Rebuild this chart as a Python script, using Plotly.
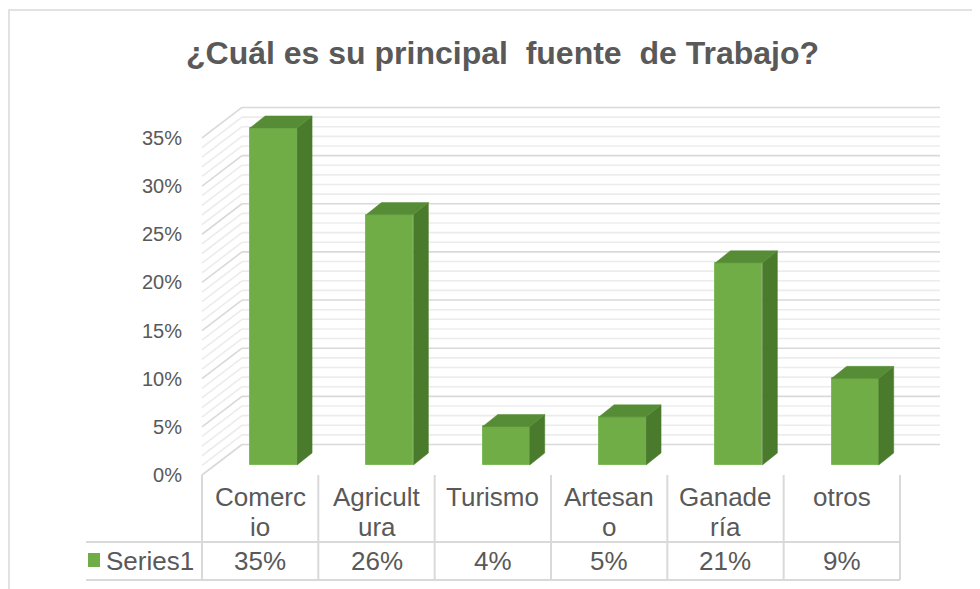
import plotly.graph_objects as go

# ---------------- data ----------------
categories = ["Comercio", "Agricultura", "Turismo", "Artesano", "Ganadería", "otros"]
cat_labels = ["Comerc<br>io", "Agricult<br>ura", "Turismo", "Artesan<br>o", "Ganade<br>ría", "otros"]
values = [35, 26, 4, 5, 21, 9]          # percent
series_name = "Series1"
y_ticks = [0, 5, 10, 15, 20, 25, 30, 35]
y_tick_text = ["0%", "5%", "10%", "15%", "20%", "25%", "30%", "35%"]
title_text = "¿Cuál es su principal  fuente  de Trabajo?"

# ---------------- geometry / style ----------------
W, H = 980, 589
OFF = 8.0         # page body margin: figure starts 8px in
X0PX = 202.0 - OFF   # left front edge of the plot floor (px, figure coords)
CW = 116.33          # category width (px)
Y0PX = 475.0 - OFF   # 0% on the front-left edge (px)
PPU = 9.63           # px per 1%

def ypaper(py_ref):
    return 1 - (py_ref - OFF) / H

def xpaper(px_ref):
    return (px_ref - OFF) / W

def ydata(py_ref):
    return (Y0PX - (py_ref - OFF)) / PPU

xr = [-0.5 - X0PX / CW, -0.5 + (W - X0PX) / CW]
yr = [-(H - Y0PX) / PPU, Y0PX / PPU]

DXW, DYW = 40 / CW, 30.5 / PPU      # back wall depth offset
DXF, DYF = 13.4 / CW, 10 / PPU      # bar front plane offset
DXB, DYB = 15 / CW, 12 / PPU        # bar depth
BW = 47 / CW                        # bar width

FRONT = "#70AD47"
SIDE = "#4A7A2B"
TOP = "#568C35"
TXT = "#595959"
GMAJ = "#D9D9D9"
GMIN = "#ECECEC"
FONT = "Liberation Sans, Arial, sans-serif"
TBL_FS = 26

n = len(categories)
vmax = max(y_ticks)

fig = go.Figure()

# ---------------- walls (shapes, below traces) ----------------
shapes = []
xl = -0.5
xrgt = n - 0.5
for v in range(0, vmax + 1):
    major = (v % 5 == 0)
    col = GMAJ if major else GMIN
    shapes.append(dict(type="line", xref="x", yref="y", layer="below",
                       x0=xl + DXW, x1=xrgt + DXW, y0=v + DYW, y1=v + DYW,
                       line=dict(color=col, width=1.6)))
    shapes.append(dict(type="line", xref="x", yref="y", layer="below",
                       x0=xl, x1=xl + DXW, y0=v, y1=v + DYW,
                       line=dict(color=col, width=1.6)))

# ---------------- bars ----------------
xs = [i + DXF for i in range(n)]
fig.add_trace(go.Bar(
    x=xs, y=values, base=[DYF] * n, width=BW,
    marker=dict(color=FRONT, line=dict(color="#7FBA5A", width=1)),
    name=series_name, showlegend=False, hoverinfo="skip"))

for i, v in enumerate(values):
    xc = xs[i]
    x_l, x_r = xc - BW / 2, xc + BW / 2
    b, t = DYF, DYF + v
    fig.add_trace(go.Scatter(
        x=[x_r, x_r + DXB, x_r + DXB, x_r, x_r],
        y=[b, b + DYB, t + DYB, t, b],
        fill="toself", fillcolor=SIDE, mode="lines",
        line=dict(color=SIDE, width=0.5), showlegend=False, hoverinfo="skip"))
    fig.add_trace(go.Scatter(
        x=[x_l, x_r, x_r + DXB, x_l + DXB, x_l],
        y=[t, t, t + DYB, t + DYB, t],
        fill="toself", fillcolor=TOP, mode="lines",
        line=dict(color=TOP, width=0.5), showlegend=False, hoverinfo="skip"))

# ---------------- data table ----------------
ROW_TOP = 475
ROW_MID = 542
ROW_BOT = 580
TBL_LEFT = 86

for k in range(n + 1):
    xb = -0.5 + k
    shapes.append(dict(type="line", xref="x", yref="y",
                       x0=xb, x1=xb, y0=ydata(ROW_TOP), y1=ydata(ROW_BOT),
                       line=dict(color=GMAJ, width=2)))
for py in (ROW_MID, ROW_BOT):
    shapes.append(dict(type="line", xref="paper", yref="y",
                       x0=xpaper(TBL_LEFT), x1=xpaper(202 + n * CW),
                       y0=ydata(py), y1=ydata(py),
                       line=dict(color=GMAJ, width=2)))

# chart outer border
shapes.append(dict(type="rect", xref="paper", yref="paper",
                   x0=xpaper(9), x1=1.05, y0=ypaper(10), y1=-0.05,
                   line=dict(color=GMAJ, width=1.5), fillcolor="rgba(0,0,0,0)"))

annotations = []
LINE_Y = [497, 527]
for i, lab in enumerate(cat_labels):
    for j, part in enumerate(lab.split("<br>")):
        annotations.append(dict(x=i, xref="x", y=ypaper(LINE_Y[j]), yref="paper",
                                text=part, showarrow=False, yanchor="middle",
                                xanchor="center",
                                font=dict(family=FONT, size=TBL_FS, color=TXT)))
    annotations.append(dict(x=i, xref="x", y=ypaper(561), yref="paper",
                            text=f"{values[i]}%", showarrow=False,
                            yanchor="middle", xanchor="center",
                            font=dict(family=FONT, size=TBL_FS, color=TXT)))

annotations.append(dict(x=xpaper(104), xref="paper", y=ypaper(561), yref="paper",
                        text=series_name, showarrow=False, xanchor="left",
                        yanchor="middle",
                        font=dict(family=FONT, size=TBL_FS, color=TXT)))
shapes.append(dict(type="rect", xref="paper", yref="paper",
                   x0=xpaper(88), x1=xpaper(100), y0=ypaper(553), y1=ypaper(567),
                   fillcolor=FRONT, line=dict(width=0)))

annotations.append(dict(x=xpaper(503), xref="paper", y=ypaper(53), yref="paper",
                        text=f"<b>{title_text}</b>", showarrow=False,
                        xanchor="center", yanchor="middle",
                        font=dict(family=FONT, size=32, color=TXT)))

fig.update_layout(
    width=W, height=H,
    margin=dict(l=0, r=0, t=0, b=0),
    paper_bgcolor="white", plot_bgcolor="rgba(0,0,0,0)",
    shapes=shapes, annotations=annotations,
    showlegend=False, bargap=0,
    xaxis=dict(range=xr, domain=[0, 1], visible=False, fixedrange=True),
    yaxis=dict(range=yr, domain=[0, 1], anchor="free", position=X0PX / W,
               tickmode="array", tickvals=y_ticks, ticktext=y_tick_text,
               showgrid=False, zeroline=False, showline=False, ticks="",
               ticklabelstandoff=20,
               tickfont=dict(family=FONT, size=20, color=TXT),
               fixedrange=True),
)

fig.write_html("out.html")
